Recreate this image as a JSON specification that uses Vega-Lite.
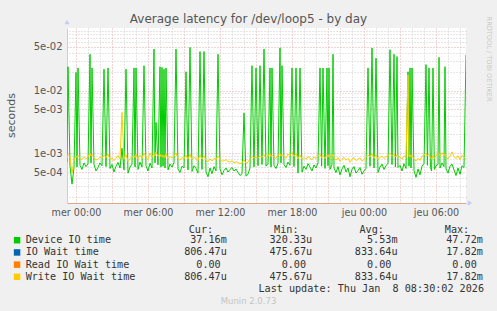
{
  "$schema": "https://vega.github.io/schema/vega-lite/v6.json",
  "width": 399,
  "height": 175,
  "autosize": {"type": "none"},
  "padding": {"left": 67, "top": 28, "right": 31, "bottom": 108},
  "background": "#f0f0f0",
  "view": {"fill": "white", "stroke": null},
  "title": {
    "text": "Average latency for /dev/loop5 - by day",
    "font": "DejaVu Sans", "fontSize": 12, "fontWeight": "normal", "color": "#555555",
    "anchor": "middle", "frame": "group", "dx": -18, "dy": 14, "offset": 4
  },
  "data": {"values": [
    {"m":-45,"d":0.00072,"w":0.00082},{"m":-40,"d":0.024,"w":0.00095},{"m":-30,"d":0.00062,"w":0.00088},{"m":-20,"d":0.00032,"w":0.000476},
    {"m":-10,"d":0.00058,"w":0.00078},{"m":0,"d":0.0195,"w":0.0009},{"m":5,"d":0.0006,"w":0.00085},{"m":10,"d":0.023,"w":0.00092},
    {"m":20,"d":0.00064,"w":0.00083},{"m":30,"d":0.00055,"w":0.00079},{"m":40,"d":0.0007,"w":0.00088},{"m":50,"d":0.00061,"w":0.00081},
    {"m":60,"d":0.00068,"w":0.00086},{"m":70,"d":0.038,"w":0.001},{"m":75,"d":0.0007,"w":0.0009},{"m":80,"d":0.023,"w":0.00095},
    {"m":90,"d":0.00066,"w":0.00084},{"m":100,"d":0.00052,"w":0.00078},{"m":110,"d":0.00059,"w":0.0008},{"m":120,"d":0.0007,"w":0.00087},
    {"m":130,"d":0.00063,"w":0.00082},{"m":140,"d":0.022,"w":0.00093},{"m":150,"d":0.00061,"w":0.00085},{"m":160,"d":0.023,"w":0.00097},
    {"m":170,"d":0.00057,"w":0.00079},{"m":180,"d":0.00066,"w":0.00084},{"m":190,"d":0.0005,"w":0.00076},{"m":200,"d":0.00062,"w":0.00083},
    {"m":210,"d":0.00071,"w":0.00092},{"m":220,"d":0.00058,"w":0.00081},{"m":230,"d":0.0012,"w":0.0045},{"m":240,"d":0.00054,"w":0.0008},
    {"m":250,"d":0.022,"w":0.00095},{"m":260,"d":0.00048,"w":0.00074},{"m":270,"d":0.0006,"w":0.00082},{"m":280,"d":0.00067,"w":0.00088},
    {"m":290,"d":0.023,"w":0.00091},{"m":295,"d":0.0006,"w":0.00085},{"m":300,"d":0.023,"w":0.00096},{"m":310,"d":0.00055,"w":0.0008},
    {"m":320,"d":0.00072,"w":0.00093},{"m":330,"d":0.0006,"w":0.00083},{"m":340,"d":0.025,"w":0.001},{"m":350,"d":0.00063,"w":0.00087},
    {"m":360,"d":0.00052,"w":0.00079},{"m":370,"d":0.00069,"w":0.00101},{"m":380,"d":0.00058,"w":0.00086},{"m":390,"d":0.046,"w":0.00098},
    {"m":395,"d":0.0007,"w":0.0009},{"m":400,"d":0.0031,"w":0.00104},{"m":410,"d":0.00065,"w":0.00089},{"m":420,"d":0.024,"w":0.00097},
    {"m":425,"d":0.0006,"w":0.00088},{"m":430,"d":0.0235,"w":0.00094},{"m":435,"d":0.00062,"w":0.00086},{"m":440,"d":0.022,"w":0.00092},
    {"m":445,"d":0.00058,"w":0.00085},{"m":450,"d":0.023,"w":0.00099},{"m":460,"d":0.00054,"w":0.00081},{"m":470,"d":0.00067,"w":0.00088},
    {"m":480,"d":0.0006,"w":0.00084},{"m":490,"d":0.00071,"w":0.0009},{"m":500,"d":0.046,"w":0.001},{"m":510,"d":0.00056,"w":0.00082},
    {"m":520,"d":0.00049,"w":0.00077},{"m":530,"d":0.00062,"w":0.00085},{"m":540,"d":0.00058,"w":0.00081},{"m":550,"d":0.02,"w":0.00093},
    {"m":560,"d":0.00054,"w":0.0008},{"m":570,"d":0.049,"w":0.00096},{"m":580,"d":0.00051,"w":0.00078},{"m":590,"d":0.00063,"w":0.00086},
    {"m":600,"d":0.00057,"w":0.00082},{"m":610,"d":0.00048,"w":0.00076},{"m":620,"d":0.042,"w":0.00094},{"m":630,"d":0.00055,"w":0.0008},
    {"m":640,"d":0.042,"w":0.00091},{"m":650,"d":0.0005,"w":0.00077},{"m":660,"d":0.00042,"w":0.00073},{"m":670,"d":0.00058,"w":0.00081},
    {"m":680,"d":0.00047,"w":0.00075},{"m":690,"d":0.00061,"w":0.00083},{"m":700,"d":0.00052,"w":0.00078},{"m":710,"d":0.038,"w":0.0009},
    {"m":720,"d":0.00056,"w":0.0008},{"m":730,"d":0.00045,"w":0.00074},{"m":740,"d":0.00053,"w":0.00076},{"m":750,"d":0.00058,"w":0.00079},
    {"m":760,"d":0.0005,"w":0.00074},{"m":770,"d":0.00055,"w":0.00072},{"m":780,"d":0.00059,"w":0.00075},{"m":790,"d":0.00052,"w":0.0007},
    {"m":800,"d":0.00056,"w":0.00073},{"m":810,"d":0.00049,"w":0.00071},{"m":820,"d":0.00044,"w":0.00068},{"m":830,"d":0.00047,"w":0.0007},
    {"m":840,"d":0.0044,"w":0.00078},{"m":850,"d":0.00043,"w":0.00069},{"m":860,"d":0.00046,"w":0.00072},{"m":870,"d":0.00058,"w":0.00081},
    {"m":880,"d":0.025,"w":0.00088},{"m":890,"d":0.0006,"w":0.00084},{"m":900,"d":0.023,"w":0.00086},{"m":910,"d":0.00063,"w":0.00083},
    {"m":920,"d":0.025,"w":0.0009},{"m":930,"d":0.00066,"w":0.00087},{"m":940,"d":0.046,"w":0.00095},{"m":950,"d":0.00062,"w":0.00084},
    {"m":960,"d":0.00068,"w":0.0009},{"m":970,"d":0.023,"w":0.00098},{"m":975,"d":0.0006,"w":0.00088},{"m":980,"d":0.023,"w":0.00093},
    {"m":990,"d":0.00064,"w":0.00086},{"m":1000,"d":0.00057,"w":0.00082},{"m":1010,"d":0.00069,"w":0.00094},{"m":1020,"d":0.048,"w":0.00099},
    {"m":1025,"d":0.0007,"w":0.0009},{"m":1030,"d":0.025,"w":0.00095},{"m":1040,"d":0.00066,"w":0.00088},{"m":1050,"d":0.00059,"w":0.00083},
    {"m":1060,"d":0.00072,"w":0.00097},{"m":1070,"d":0.00064,"w":0.00092},{"m":1080,"d":0.023,"w":0.00102},{"m":1090,"d":0.00061,"w":0.00089},
    {"m":1100,"d":0.023,"w":0.00098},{"m":1110,"d":0.00048,"w":0.00081},{"m":1120,"d":0.023,"w":0.00094},{"m":1130,"d":0.0005,"w":0.00079},
    {"m":1140,"d":0.00062,"w":0.00085},{"m":1150,"d":0.00055,"w":0.0008},{"m":1160,"d":0.00068,"w":0.00088},{"m":1170,"d":0.0006,"w":0.00083},
    {"m":1180,"d":0.00052,"w":0.00079},{"m":1190,"d":0.00065,"w":0.00087},{"m":1200,"d":0.00058,"w":0.00082},{"m":1210,"d":0.0007,"w":0.0009},
    {"m":1220,"d":0.023,"w":0.00096},{"m":1228,"d":0.00062,"w":0.00085},{"m":1235,"d":0.023,"w":0.00092},{"m":1245,"d":0.00057,"w":0.00082},
    {"m":1255,"d":0.023,"w":0.00094},{"m":1260,"d":0.00063,"w":0.00087},{"m":1265,"d":0.023,"w":0.00095},{"m":1270,"d":0.00055,"w":0.00083},
    {"m":1280,"d":0.00066,"w":0.00088},{"m":1285,"d":0.038,"w":0.00097},{"m":1290,"d":0.00058,"w":0.00084},{"m":1300,"d":0.00049,"w":0.00077},
    {"m":1310,"d":0.00061,"w":0.00085},{"m":1320,"d":0.00045,"w":0.00074},{"m":1330,"d":0.00056,"w":0.0008},{"m":1340,"d":0.00064,"w":0.00086},
    {"m":1350,"d":0.0005,"w":0.00077},{"m":1360,"d":0.00058,"w":0.00083},{"m":1370,"d":0.00042,"w":0.00072},{"m":1380,"d":0.00055,"w":0.0008},
    {"m":1390,"d":0.00061,"w":0.00085},{"m":1400,"d":0.00048,"w":0.00076},{"m":1410,"d":0.00053,"w":0.00081},{"m":1420,"d":0.00059,"w":0.00084},
    {"m":1430,"d":0.00046,"w":0.00075},{"m":1440,"d":0.00052,"w":0.0008},{"m":1450,"d":0.00057,"w":0.00086},{"m":1460,"d":0.023,"w":0.00093},
    {"m":1470,"d":0.00062,"w":0.00087},{"m":1480,"d":0.048,"w":0.00098},{"m":1490,"d":0.00058,"w":0.00083},{"m":1500,"d":0.033,"w":0.00094},
    {"m":1510,"d":0.00049,"w":0.00079},{"m":1520,"d":0.0006,"w":0.00085},{"m":1530,"d":0.00067,"w":0.0009},{"m":1540,"d":0.00055,"w":0.00082},
    {"m":1550,"d":0.00063,"w":0.00088},{"m":1560,"d":0.00069,"w":0.00091},{"m":1570,"d":0.045,"w":0.001},{"m":1580,"d":0.00066,"w":0.00089},
    {"m":1590,"d":0.038,"w":0.00096},{"m":1597,"d":0.0006,"w":0.00087},{"m":1605,"d":0.035,"w":0.00094},{"m":1610,"d":0.00059,"w":0.00084},
    {"m":1620,"d":0.00064,"w":0.00088},{"m":1630,"d":0.00052,"w":0.0008},{"m":1640,"d":0.00068,"w":0.00091},{"m":1650,"d":0.00057,"w":0.00085},
    {"m":1660,"d":0.02,"w":0.0178},{"m":1665,"d":0.00062,"w":0.00088},{"m":1670,"d":0.023,"w":0.00095},{"m":1675,"d":0.00058,"w":0.00086},
    {"m":1680,"d":0.023,"w":0.00093},{"m":1690,"d":0.00053,"w":0.0008},{"m":1700,"d":0.00041,"w":0.00075},{"m":1710,"d":0.00056,"w":0.00083},
    {"m":1720,"d":0.00045,"w":0.00077},{"m":1730,"d":0.00062,"w":0.00089},{"m":1740,"d":0.00068,"w":0.00094},{"m":1750,"d":0.026,"w":0.001},
    {"m":1757,"d":0.00064,"w":0.0009},{"m":1765,"d":0.023,"w":0.00096},{"m":1772,"d":0.00059,"w":0.00085},{"m":1778,"d":0.00052,"w":0.0008},
    {"m":1785,"d":0.023,"w":0.00092},{"m":1792,"d":0.00055,"w":0.00083},{"m":1800,"d":0.00063,"w":0.0009},{"m":1810,"d":0.00066,"w":0.00097},
    {"m":1815,"d":0.034,"w":0.001},{"m":1820,"d":0.00058,"w":0.00088},{"m":1830,"d":0.0007,"w":0.00102},{"m":1840,"d":0.00061,"w":0.00091},
    {"m":1845,"d":0.024,"w":0.00098},{"m":1850,"d":0.00056,"w":0.00086},{"m":1860,"d":0.00048,"w":0.00081},{"m":1870,"d":0.00062,"w":0.0009},
    {"m":1880,"d":0.00067,"w":0.00105},{"m":1890,"d":0.00054,"w":0.00088},{"m":1900,"d":0.00044,"w":0.00082},{"m":1910,"d":0.00058,"w":0.00091},
    {"m":1920,"d":0.00046,"w":0.00079},{"m":1930,"d":0.00063,"w":0.00092},{"m":1940,"d":0.00059,"w":0.00086},{"m":1950,"d":0.03716,"w":0.00080647}
  ]},
  "layer": [
    {
      "mark": {"type": "line", "strokeWidth": 1, "clip": true},
      "encoding": {
        "x": {"field": "m", "type": "quantitative",
          "scale": {"domain": [-45, 1950], "nice": false, "zero": false},
          "axis": {
            "orient": "bottom",
            "values": [0,180,360,540,720,900,1080,1260,1440,1620,1800],
            "grid": true, "gridColor": "#e8a8a8", "gridDash": [1,2], "gridWidth": 1,
            "ticks": false, "domain": true, "domainColor": "#e0a888", "domainWidth": 1,
            "labelFont": "DejaVu Sans", "labelFontSize": 9.6, "labelColor": "#555555", "labelPadding": 4,
            "labelFlush": false, "labelOverlap": false,
            "labelExpr": "datum.value % 360 == 0 ? (datum.value < 1440 ? 'mer ' : 'jeu ') + ((datum.value/60)%24 < 10 ? '0' : '') + ((datum.value/60)%24) + ':00' : ''",
            "title": "Last update: Thu Jan\u00a0\u00a08 08:30:02 2026",
            "titleFont": "DejaVu Sans Mono", "titleFontSize": 10.15, "titleFontWeight": "normal", "titleColor": "#333333",
            "titleX": 416.5, "titleY": 85, "titleAlign": "right", "titleBaseline": "middle", "titleAngle": 0
          }
        },
        "y": {"field": "d", "type": "quantitative",
          "scale": {"type": "log", "domain": [0.00016, 0.1], "nice": false},
          "axis": {
            "orient": "left",
            "values": [0.0005, 0.001, 0.005, 0.01, 0.05],
            "grid": true, "gridColor": "#e8a8a8", "gridDash": [1,2], "gridWidth": 1,
            "ticks": false, "domain": true, "domainColor": "#c8cce8", "domainWidth": 1,
            "labelFont": "DejaVu Sans", "labelFontSize": 10, "labelColor": "#555555", "labelPadding": 5,
            "labelExpr": "replace(format(datum.value, '.0e'), 'e-', 'e-0')",
            "title": "seconds",
            "titleFont": "DejaVu Sans", "titleFontSize": 11, "titleFontWeight": "normal", "titleColor": "#555555",
            "titleX": -56, "titleY": 87, "titleAngle": 270, "titleAlign": "center", "titleBaseline": "middle"
          }
        },
        "color": {"datum": "d",
          "scale": {"domain": ["d", "b", "r", "w"], "range": ["#00cc00", "#0066b3", "#ff8000", "#ffcc00"]},
          "legend": {
            "orient": "none", "legendX": -55, "legendY": 196.5, "direction": "vertical", "padding": 0,
            "title": "\u200b\u00a0\u00a0\u00a0\u00a0\u00a0\u00a0\u00a0\u00a0\u00a0\u00a0\u00a0\u00a0\u00a0\u00a0\u00a0\u00a0\u00a0\u00a0\u00a0\u00a0\u00a0\u00a0\u00a0\u00a0\u00a0\u00a0\u00a0\u00a0\u00a0Cur:\u00a0\u00a0\u00a0\u00a0\u00a0\u00a0\u00a0\u00a0\u00a0\u00a0Min:\u00a0\u00a0\u00a0\u00a0\u00a0\u00a0\u00a0\u00a0\u00a0\u00a0Avg:\u00a0\u00a0\u00a0\u00a0\u00a0\u00a0\u00a0\u00a0\u00a0\u00a0Max:",
            "titleFont": "DejaVu Sans Mono", "titleFontSize": 10.15, "titleFontWeight": "normal", "titleColor": "#333333",
            "titlePadding": 0.5, "titleLimit": 0,
            "labelFont": "DejaVu Sans Mono", "labelFontSize": 10.15, "labelColor": "#333333", "labelLimit": 0,
            "labelOffset": 3.5, "symbolType": "square", "symbolSize": 42, "symbolStrokeWidth": 0, "rowPadding": 1.2,
            "labelExpr": "datum.value == 'd' ? 'Device\u00a0IO\u00a0time\u00a0\u00a0\u00a0\u00a0\u00a0\u00a0\u00a0\u00a0\u00a0\u00a0\u00a0\u00a0\u00a037.16m\u00a0\u00a0\u00a0\u00a0\u00a0\u00a0\u00a0320.33u\u00a0\u00a0\u00a0\u00a0\u00a0\u00a0\u00a0\u00a0\u00a05.53m\u00a0\u00a0\u00a0\u00a0\u00a0\u00a0\u00a0\u00a047.72m' : datum.value == 'b' ? 'IO\u00a0Wait\u00a0time\u00a0\u00a0\u00a0\u00a0\u00a0\u00a0\u00a0\u00a0\u00a0\u00a0\u00a0\u00a0\u00a0\u00a0806.47u\u00a0\u00a0\u00a0\u00a0\u00a0\u00a0\u00a0475.67u\u00a0\u00a0\u00a0\u00a0\u00a0\u00a0\u00a0833.64u\u00a0\u00a0\u00a0\u00a0\u00a0\u00a0\u00a0\u00a017.82m' : datum.value == 'r' ? 'Read\u00a0IO\u00a0Wait\u00a0time\u00a0\u00a0\u00a0\u00a0\u00a0\u00a0\u00a0\u00a0\u00a0\u00a0\u00a00.00\u00a0\u00a0\u00a0\u00a0\u00a0\u00a0\u00a0\u00a0\u00a0\u00a00.00\u00a0\u00a0\u00a0\u00a0\u00a0\u00a0\u00a0\u00a0\u00a0\u00a00.00\u00a0\u00a0\u00a0\u00a0\u00a0\u00a0\u00a0\u00a0\u00a0\u00a00.00' : 'Write\u00a0IO\u00a0Wait\u00a0time\u00a0\u00a0\u00a0\u00a0\u00a0\u00a0\u00a0\u00a0806.47u\u00a0\u00a0\u00a0\u00a0\u00a0\u00a0\u00a0475.67u\u00a0\u00a0\u00a0\u00a0\u00a0\u00a0\u00a0833.64u\u00a0\u00a0\u00a0\u00a0\u00a0\u00a0\u00a0\u00a017.82m'",
            "encode": {"symbols": {"update": {"fill": {"scale": "color", "field": "value"}, "opacity": {"value": 1}}}}
          }
        }
      }
    },
    {
      "mark": {"type": "line", "strokeWidth": 1, "clip": true},
      "encoding": {
        "x": {"field": "m", "type": "quantitative",
          "axis": {
            "orient": "bottom",
            "values": [60,120,240,300,420,480,600,660,780,840,960,1020,1140,1200,1320,1380,1500,1560,1680,1740,1860,1920],
            "grid": true, "gridColor": "#cccccc", "gridDash": [1,2], "gridWidth": 1,
            "ticks": false, "domain": false, "labels": false,
            "title": "Munin 2.0.73",
            "titleFont": "DejaVu Sans", "titleFontSize": 8.5, "titleFontWeight": "normal", "titleColor": "#c4c4c4",
            "titleX": 181, "titleY": 97, "titleAlign": "center", "titleBaseline": "middle", "titleAngle": 0
          }
        },
        "y": {"field": "w", "type": "quantitative",
          "axis": {
            "orient": "right",
            "values": [0.0002,0.0003,0.0004,0.0006,0.0007,0.0008,0.0009,0.002,0.003,0.004,0.006,0.007,0.008,0.009,0.02,0.03,0.04,0.06,0.07,0.08,0.09],
            "grid": true, "gridColor": "#cccccc", "gridDash": [1,2], "gridWidth": 1,
            "ticks": false, "domain": false, "labels": false,
            "title": "RRDTOOL / TOBI OETIKER",
            "titleFont": "DejaVu Sans", "titleFontSize": 6.6, "titleFontWeight": "normal", "titleColor": "#c8c8c8",
            "titleX": 22.5, "titleY": 30.5, "titleAngle": 90, "titleAlign": "center", "titleBaseline": "middle"
          }
        },
        "color": {"datum": "w"}
      }
    },
    {
      "data": {"values": [{"m": -45, "v": 0.125}]},
      "mark": {"type": "point", "shape": "triangle-up", "filled": true, "size": 28, "color": "#c8ccf4", "opacity": 1, "clip": false},
      "encoding": {
        "x": {"field": "m", "type": "quantitative", "axis": null},
        "y": {"field": "v", "type": "quantitative", "axis": null}
      }
    },
    {
      "data": {"values": [{"m": 1970, "v": 0.00016}]},
      "mark": {"type": "point", "shape": "triangle-right", "filled": true, "size": 28, "color": "#c8ccf4", "opacity": 1, "clip": false},
      "encoding": {
        "x": {"field": "m", "type": "quantitative", "axis": null},
        "y": {"field": "v", "type": "quantitative", "axis": null}
      }
    }
  ],
  "resolve": {"axis": {"x": "independent", "y": "independent"}}
}
